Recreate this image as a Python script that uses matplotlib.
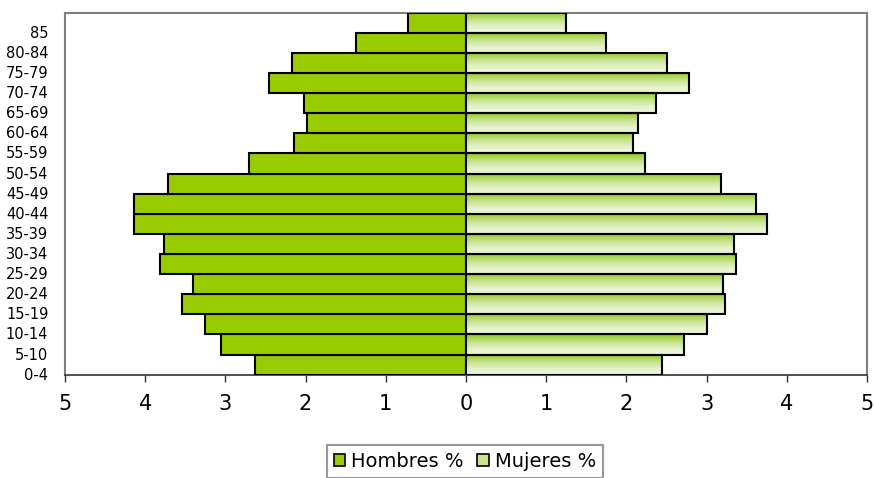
import numpy as np
import matplotlib
matplotlib.use("Agg")
import matplotlib.pyplot as plt
from matplotlib.colors import LinearSegmentedColormap
from matplotlib.patches import Patch

plt.rcParams['font.family'] = ['DejaVu Sans']

# Age groups, bottom to top
age_groups = ["0-4", "5-10", "10-14", "15-19", "20-24", "25-29", "30-34", "35-39",
              "40-44", "45-49", "50-54", "55-59", "60-64", "65-69", "70-74",
              "75-79", "80-84", "85"]
# Percent of population by sex
hombres = [2.63, 3.06, 3.25, 3.54, 3.41, 3.81, 3.77, 4.14, 4.14, 3.71,
           2.71, 2.14, 1.98, 2.02, 2.46, 2.17, 1.37, 0.72]
mujeres = [2.45, 2.72, 3.00, 3.23, 3.20, 3.37, 3.34, 3.75, 3.62, 3.18,
           2.23, 2.08, 2.14, 2.37, 2.78, 2.50, 1.75, 1.25]
x_ticks = [-5, -4, -3, -2, -1, 0, 1, 2, 3, 4, 5]

male_color = "#99CC00"
# light at the bottom of each bar, saturated green at the top
fem_cmap = LinearSegmentedColormap.from_list(
    "fem", [(0.0, "#EEF7DC"), (0.3, "#E4F1CA"), (0.6, "#C8E492"),
            (0.85, "#A6D34C"), (1.0, "#90C41E")])

fig = plt.figure(figsize=(8.74, 4.78), dpi=100)
ax = fig.add_axes([65 / 874, 1 - 374.7 / 478, (867 - 65) / 874, (374.7 - 12.7) / 478])

y = np.arange(len(age_groups))
ax.barh(y, [-v for v in hombres], height=1.0, color=male_color,
        edgecolor="black", linewidth=1.5, zorder=3)
fem_bars = ax.barh(y, mujeres, height=1.0, color="none",
                   edgecolor="black", linewidth=1.5, zorder=4)

# vertical gradient fill for the female bars
grad = np.linspace(0, 1, 64).reshape(-1, 1)
for p in fem_bars.patches:
    x0, y0 = p.get_x(), p.get_y()
    w, h = p.get_width(), p.get_height()
    im = ax.imshow(grad, cmap=fem_cmap, aspect="auto", origin="lower",
                   extent=(x0, x0 + w, y0, y0 + h), zorder=3.5,
                   interpolation="bilinear")
    im.set_clip_path(p)

ax.set_xlim(-5, 5)
ax.set_ylim(-0.5, len(age_groups) - 0.5)
ax.set_xticks(x_ticks)
ax.set_xticklabels([str(abs(t)) for t in x_ticks], fontsize=15)
ax.set_yticks(y - 0.45)
ax.set_yticklabels(age_groups, fontsize=10.5)
ax.tick_params(axis="y", length=0, pad=12)
ax.tick_params(axis="x", length=5, width=1, direction="out", pad=9, color="#333333")

for side in ("left", "top", "right"):
    ax.spines[side].set_color("#808080")
    ax.spines[side].set_linewidth(1.5)
ax.spines["bottom"].set_color("#333333")
ax.spines["bottom"].set_linewidth(1.2)
ax.set_facecolor("white")

handles = [Patch(facecolor=male_color, edgecolor="black", linewidth=1.2),
           Patch(facecolor="#C8E494", edgecolor="black", linewidth=1.2)]
leg = fig.legend(handles, ["Hombres %", "Mujeres %"], loc="upper center",
                 bbox_to_anchor=(465 / 874, 1 - 445 / 478), ncol=2, fontsize=14,
                 frameon=True, fancybox=False, edgecolor="#808080",
                 handlelength=0.6, handleheight=0.6, handletextpad=0.3,
                 columnspacing=0.7, borderpad=0.35, borderaxespad=0)
leg.get_frame().set_linewidth(1.5)

fig.savefig("out.png", dpi=100)
